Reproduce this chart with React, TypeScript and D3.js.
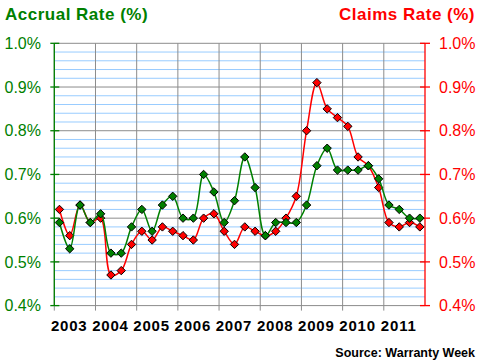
import * as d3 from "d3";

const YEARS = ["2003", "2004", "2005", "2006", "2007", "2008", "2009", "2010", "2011"];
const Y_TICKS = [0.4, 0.5, 0.6, 0.7, 0.8, 0.9, 1.0];

// quarterly values, Q1 2003 .. Q4 2011
const ACCRUAL = [
  0.59, 0.53, 0.63, 0.59, 0.61, 0.52, 0.52, 0.58, 0.62, 0.57, 0.63, 0.65,
  0.6, 0.6, 0.7, 0.66, 0.59, 0.64, 0.74, 0.67, 0.56, 0.59, 0.59, 0.59,
  0.63, 0.72, 0.76, 0.71, 0.71, 0.71, 0.72, 0.69, 0.63, 0.62, 0.6, 0.6,
];
const CLAIMS = [
  0.62, 0.56, 0.63, 0.59, 0.6, 0.47, 0.48, 0.54, 0.57, 0.55, 0.58, 0.57,
  0.56, 0.55, 0.6, 0.61, 0.57, 0.54, 0.58, 0.57, 0.56, 0.57, 0.6, 0.65,
  0.8, 0.91, 0.85, 0.83, 0.81, 0.74, 0.72, 0.67, 0.59, 0.58, 0.59, 0.58,
];

const GREEN = "#008000";
const RED = "#ff0000";
const FONT = "'Liberation Sans', Arial, sans-serif";

export default function App() {
  const W = 485, H = 363;
  const L = 54.3, R = 425, T = 43.3, B = 305.6;
  const n = ACCRUAL.length;

  const x = d3.scaleLinear().domain([0, n]).range([L, R]);
  const y = d3.scaleLinear().domain([0.4, 1.0]).range([B, T]);

  const minor = d3.range(0.42, 1.0, 0.02).filter((v) => Math.abs(v * 10 - Math.round(v * 10)) > 0.01);

  const line = d3
    .line<number>()
    .x((_, i) => x(i + 0.5))
    .y((d) => y(d))
    .curve(d3.curveCatmullRom.alpha(0.5));

  const diamond = (cx: number, cy: number, r = 4.2) =>
    `M${cx},${cy - r}L${cx + r},${cy}L${cx},${cy + r}L${cx - r},${cy}Z`;

  const series = [
    { data: CLAIMS, color: RED },
    { data: ACCRUAL, color: GREEN },
  ];

  return (
    <svg
      width={W}
      height={H}
      style={{ position: "absolute", left: 0, top: 0, background: "#fff" }}
      fontFamily={FONT}
    >
      {/* minor grid */}
      {minor.map((v) => (
        <line key={v} x1={L} x2={R} y1={y(v)} y2={y(v)} stroke="#99ccff" strokeWidth={1} />
      ))}
      {/* major grid */}
      {Y_TICKS.map((v) => (
        <line key={v} x1={L} x2={R} y1={y(v)} y2={y(v)} stroke="#8c8c8c" strokeWidth={1} />
      ))}
      {YEARS.map((_, k) => (
        <line key={k} x1={x(k * 4)} x2={x(k * 4)} y1={T} y2={B + 5} stroke="#8c8c8c" strokeWidth={1} />
      ))}

      {/* axes */}
      <line x1={L} x2={L} y1={T} y2={B} stroke={GREEN} strokeWidth={1.3} />
      <line x1={R} x2={R} y1={T} y2={B} stroke={RED} strokeWidth={1.3} />
      {Y_TICKS.map((v) => (
        <g key={v}>
          <line x1={L - 4} x2={L + 5} y1={y(v)} y2={y(v)} stroke={GREEN} strokeWidth={1.3} />
          <line x1={R - 5} x2={R + 5} y1={y(v)} y2={y(v)} stroke={RED} strokeWidth={1.3} />
          <text x={41} y={y(v)} dy="0.36em" textAnchor="end" fontSize={16} fill={GREEN}>
            {v.toFixed(1)}%
          </text>
          <text x={439} y={y(v)} dy="0.36em" textAnchor="start" fontSize={16} fill={RED}>
            {v.toFixed(1)}%
          </text>
        </g>
      ))}

      {/* year labels */}
      {YEARS.map((yr, k) => (
        <text
          key={yr}
          x={x(k * 4 + 1.45)}
          y={331}
          textAnchor="middle"
          fontSize={15}
          letterSpacing={0.8}
          fontWeight="bold"
          fill="#000"
        >
          {yr}
        </text>
      ))}

      {/* series */}
      {series.map((s) => (
        <g key={s.color}>
          <path d={line(s.data) ?? ""} fill="none" stroke={s.color} strokeWidth={1.5} />
          {s.data.map((v, i) => (
            <path key={i} d={diamond(x(i + 0.5), y(v))} fill={s.color} stroke="#000" strokeWidth={1} />
          ))}
        </g>
      ))}

      {/* titles */}
      <text x={5} y={20} fontSize={17} letterSpacing={0.5} fontWeight="bold" fill={GREEN}>
        Accrual Rate (%)
      </text>
      <text x={475} y={20} textAnchor="end" fontSize={17} letterSpacing={0.5} fontWeight="bold" fill={RED}>
        Claims Rate (%)
      </text>
      <text x={475} y={357} textAnchor="end" fontSize={12.5} fontWeight="bold" fill="#000">
        Source: Warranty Week
      </text>
    </svg>
  );
}
